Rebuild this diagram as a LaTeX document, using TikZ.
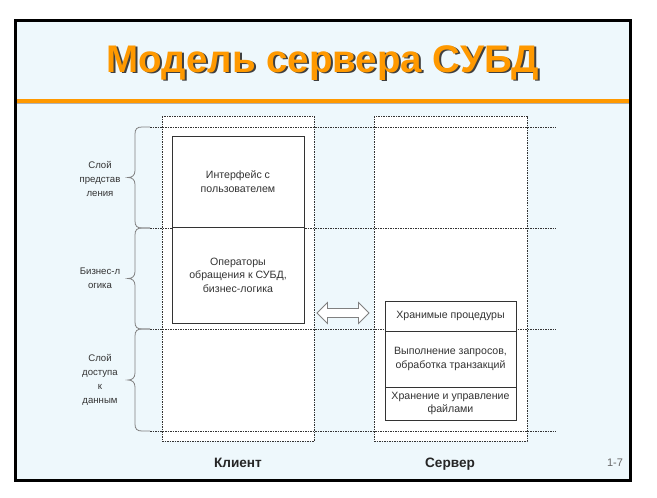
\documentclass[tikz,border=0pt]{standalone}
\usepackage{fontspec}
\setmainfont{Liberation Sans}
\usetikzlibrary{shapes.arrows}
\definecolor{slidebg}{HTML}{EEF8FC}
\definecolor{titleorange}{HTML}{FF9900}
\definecolor{inkgrey}{HTML}{333333}
\begin{document}
\begin{tikzpicture}[x=1pt,y=-1pt,
  column/.style={draw=inkgrey,fill=white,dash pattern=on 1.5pt off 1pt,line width=0.5pt},
  layer/.style={draw=inkgrey,dash pattern=on 1.5pt off 1pt,line width=0.5pt},
  box/.style={draw=inkgrey,fill=white,line width=0.7pt,align=center,inner sep=0pt,
    font=\fontsize{10.6}{13.5}\selectfont,text=inkgrey},
  lbl/.style={align=center,font=\fontsize{9.6}{13.8}\selectfont,text=inkgrey},
  brace/.style={draw=gray,line width=0.8pt},
  heading/.style={anchor=base,font=\fontsize{38.5}{42}\selectfont\bfseries},
  side/.style={anchor=base,font=\fontsize{13.6}{15}\selectfont\bfseries,text=black!85}]
\useasboundingbox[fill=white] (0,0) rectangle (657,498);
% slide frame and title
\draw[line width=3pt,fill=slidebg] (15,20) rectangle (630,480);
\node[heading,text=black!75] at (325,73.5) {Модель сервера СУБД};
\node[heading,text=titleorange] (title) at (323,72) {Модель сервера СУБД};
\draw[gray!60,line width=1pt] (16.5,103.5) -- (628.5,103.5);
\draw[titleorange,line width=4pt] (16.5,101) -- (628.5,101);
% client and server columns
\draw[column] (162,116) rectangle (314,441);
\draw[column] (374,116) rectangle (527,441);
\foreach \y in {127,228,329,431}
  \draw[layer] (150,\y) -- (556,\y);
% braces
\foreach \t/\b in {127/228,228/329,329/431}{
  \pgfmathsetmacro\m{(\t+\b)/2}
  \draw[brace] (150,\t) -- (142,\t) .. controls (137,\t) and (135,\t+2) .. (135,\t+7)
    -- (135,\m-7) .. controls (135,\m-2) and (132,\m) .. (128,\m)
    .. controls (132,\m) and (135,\m+2) .. (135,\m+7)
    -- (135,\b-7) .. controls (135,\b-2) and (137,\b) .. (142,\b) -- (150,\b);
}
\node[lbl] (view) at (100,179) {Слой\\представ\\ления};
\node[lbl] (logic) at (100,278) {Бизнес-л\\огика};
\node[lbl] (data) at (100,380) {Слой\\доступа\\к\\данным};
% client boxes
\node[box,minimum width=132pt,minimum height=91pt] (ui) at (238,181.5) {Интерфейс с\\пользователем};
\node[box,minimum width=132pt,minimum height=96pt] (ops) at (238,275) {Операторы\\обращения к СУБД,\\бизнес-логика};
% server boxes
\node[box,minimum width=131pt,minimum height=30pt] (proc) at (450.5,316) {Хранимые процедуры};
\node[box,minimum width=131pt,minimum height=56pt] (exec) at (450.5,359) {Выполнение запросов,\\обработка транзакций};
\node[box,minimum width=131pt,minimum height=33pt] (files) at (450.5,403.5) {Хранение и управление\\файлами};
% link between client and server
\node[double arrow,draw=gray,fill=white,line width=0.8pt,inner sep=4pt,
  minimum height=52pt,minimum width=21pt,double arrow head extend=6pt] (link) at (343,313) {};
\node[side] (client) at (238,467) {Клиент};
\node[side] (server) at (450,467) {Сервер};
\node[anchor=base,font=\fontsize{11}{12}\selectfont,text=black!60] (page) at (615,466.5) {1-7};
\end{tikzpicture}
\end{document}
